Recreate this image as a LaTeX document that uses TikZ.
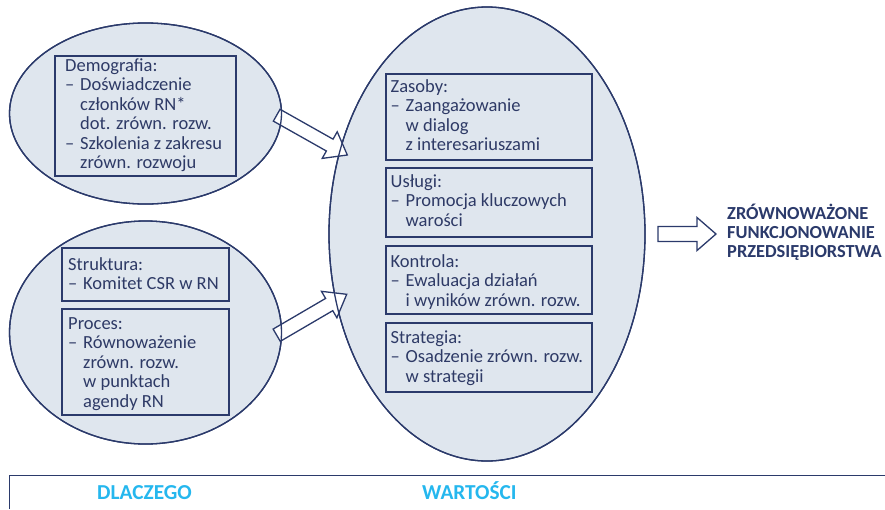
\documentclass[tikz,border=0pt]{standalone}
\usepackage{fontspec}
\setmainfont{Carlito}
\usetikzlibrary{shapes.geometric,calc}
\definecolor{navy}{HTML}{2B3A6B}
\definecolor{efill}{HTML}{DFE6EE}
\definecolor{cyanx}{HTML}{25B7EE}
\definecolor{txt}{HTML}{2E3A66}
\newcommand{\dashitem}{\makebox[15pt][l]{–}}
\newcommand{\indnt}{\hspace*{15pt}}
\newcommand{\firstline}{\rule{0pt}{16pt}}
\newcommand{\blockarrow}[5]{%
  \coordinate (hb) at ($(#2)!#5!(#1)$);
  \draw[barrow] ($(#1)!#3!90:(#2)$) -- ($(hb)!#3!90:(#2)$) -- ($(hb)!#4!90:(#2)$)
    -- (#2) -- ($(hb)!#4!-90:(#2)$) -- ($(hb)!#3!-90:(#2)$) -- ($(#1)!#3!-90:(#2)$) -- cycle;
}
\begin{document}
\begin{tikzpicture}[x=1pt,y=-1pt,
  oval/.style={ellipse, draw=navy, fill=efill, line width=1.3pt, inner sep=0pt},
  box/.style={draw=navy, line width=1.3pt, anchor=north west, inner sep=0pt, outer sep=0pt},
  boxtext/.style={anchor=north west, inner sep=0pt, align=left, text=txt,
    font=\fontsize{18.5}{19.5}\selectfont},
  barrow/.style={draw=navy, fill=white, line width=1.3pt, line join=miter},
  restext/.style={anchor=north west, inner sep=0pt, align=left, text=navy,
    font=\bfseries\fontsize{18.4}{19.2}\selectfont},
  foot/.style={anchor=base west, inner sep=0pt, text=cyanx,
    font=\bfseries\fontsize{21.3}{24}\selectfont},
  rule/.style={draw=navy, line width=1.3pt}]
\useasboundingbox (0,0) rectangle (885,509);

% ellipses
\node[oval, minimum width=272pt, minimum height=181pt] (L1) at (145.5,113.5) {};
\node[oval, minimum width=272pt, minimum height=223pt] (L2) at (145.5,332.5) {};
\node[oval, minimum width=316pt, minimum height=454pt] (C) at (487,234) {};

% block arrows
\coordinate (a1t) at (276.7,115.2);
\coordinate (a1h) at (347.3,155);
\coordinate (a2t) at (276.7,335.2);
\coordinate (a2h) at (346.7,294.3);
\coordinate (a3t) at (658,234);
\coordinate (a3h) at (716,234);
\blockarrow{a1t}{a1h}{6.8pt}{15.3pt}{20.2pt}
\blockarrow{a2t}{a2h}{7.1pt}{15.3pt}{20.3pt}
\blockarrow{a3t}{a3h}{7.5pt}{16.5pt}{19pt}

% ellipse outlines over the arrows
\draw[rule] (L1.center) ellipse [x radius=136pt, y radius=90.5pt];
\draw[rule] (L2.center) ellipse [x radius=136pt, y radius=111.5pt];
\draw[rule] (C.center) ellipse [x radius=158pt, y radius=227pt];

% left boxes
\node[box, minimum width=181pt, minimum height=120pt] (D) at (55,56) {};
\node[boxtext] (Dt) at ($(D.north west)+(10,-1)$) {\firstline Demografia:\\
  \dashitem Doświadczenie\\ \indnt członków RN*\\ \indnt dot. zrówn. rozw.\\
  \dashitem Szkolenia z zakresu\\ \indnt zrówn. rozwoju};
\node[box, minimum width=167pt, minimum height=53pt] (S) at (62,248) {};
\node[boxtext] (St) at ($(S.north west)+(6,6)$) {\firstline Struktura:\\
  \dashitem Komitet CSR w RN};
\node[box, minimum width=167pt, minimum height=106pt] (P) at (62,309) {};
\node[boxtext] (Pt) at ($(P.north west)+(6,4)$) {\firstline Proces:\\
  \dashitem Równoważenie\\ \indnt zrówn. rozw.\\ \indnt w punktach\\ \indnt agendy RN};

% right boxes
\node[box, minimum width=206pt, minimum height=86pt] (Z) at (386,74) {};
\node[boxtext] (Zt) at ($(Z.north west)+(4.5,2)$) {\firstline Zasoby:\\
  \dashitem Zaangażowanie\\ \indnt w dialog\\ \indnt z interesariuszami};
\node[box, minimum width=206pt, minimum height=69pt] (U) at (386,168) {};
\node[boxtext] (Ut) at ($(U.north west)+(4.5,3)$) {\firstline Usługi:\\
  \dashitem Promocja kluczowych\\ \indnt warości};
\node[box, minimum width=206pt, minimum height=68pt] (K) at (386,246) {};
\node[boxtext] (Kt) at ($(K.north west)+(4.5,5)$) {\firstline Kontrola:\\
  \dashitem Ewaluacja działań\\ \indnt i wyników zrówn. rozw.};
\node[box, minimum width=206pt, minimum height=69pt] (T) at (386,323) {};
\node[boxtext] (Tt) at ($(T.north west)+(4.5,4)$) {\firstline Strategia:\\
  \dashitem Osadzenie zrówn. rozw.\\ \indnt w strategii};

% result text
\node[restext] (R) at (727,203.3) {\firstline ZRÓWNOWAŻONE\\ FUNKCJONOWANIE\\ PRZEDSIĘBIORSTWA};

% footer
\coordinate (fb) at (9.5,509);
\coordinate (ft) at (9.5,475.7);
\coordinate (fr) at (885,475.7);
\draw[rule] (fb) -- (ft) -- (fr);
\node[foot] (F1) at (97,499) {DLACZEGO};
\node[foot] (F2) at (422,499) {WARTOŚCI};
\end{tikzpicture}
\end{document}
